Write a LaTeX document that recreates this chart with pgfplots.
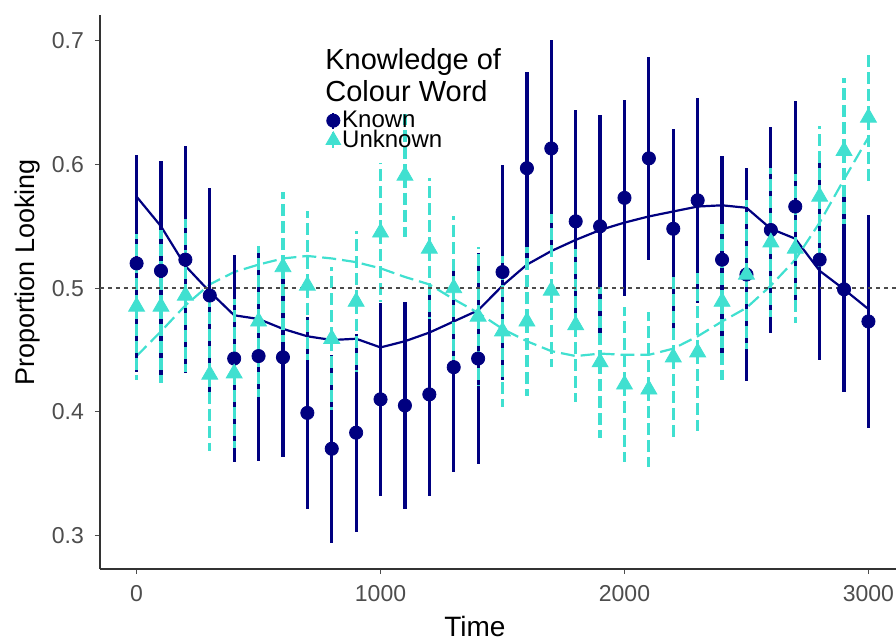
\documentclass[border=0pt]{standalone}
\usepackage{fontspec}
\setmainfont{Liberation Sans}
\usepackage{pgfplots}
\pgfplotsset{compat=1.18}
\usepackage{pgfplotstable}
\definecolor{navyc}{HTML}{000080}
\definecolor{turq}{HTML}{40E0D0}
\definecolor{tickgray}{HTML}{4D4D4D}

% time, mean, half-width of the interval
\pgfplotstableread{
t m e
0 0.520 0.088
100 0.514 0.089
200 0.523 0.092
300 0.494 0.087
400 0.443 0.084
500 0.445 0.085
600 0.444 0.081
700 0.399 0.078
800 0.370 0.076
900 0.383 0.080
1000 0.410 0.078
1100 0.405 0.084
1200 0.414 0.082
1300 0.436 0.085
1400 0.443 0.085
1500 0.513 0.087
1600 0.597 0.078
1700 0.613 0.088
1800 0.554 0.090
1900 0.550 0.090
2000 0.573 0.079
2100 0.605 0.082
2200 0.548 0.081
2300 0.571 0.083
2400 0.523 0.084
2500 0.511 0.086
2600 0.547 0.083
2700 0.566 0.085
2800 0.523 0.081
2900 0.499 0.083
3000 0.473 0.086
}\known

\pgfplotstableread{
t m e
0 0.485 0.059
100 0.485 0.062
200 0.494 0.062
300 0.430 0.062
400 0.431 0.060
500 0.473 0.061
600 0.517 0.061
700 0.502 0.060
800 0.459 0.058
900 0.489 0.057
1000 0.545 0.056
1100 0.591 0.050
1200 0.532 0.057
1300 0.500 0.058
1400 0.477 0.056
1500 0.465 0.061
1600 0.473 0.060
1700 0.498 0.062
1800 0.470 0.062
1900 0.440 0.061
2000 0.422 0.063
2100 0.418 0.063
2200 0.444 0.065
2300 0.448 0.064
2400 0.489 0.063
2500 0.511 0.060
2600 0.537 0.060
2700 0.532 0.060
2800 0.574 0.057
2900 0.611 0.059
3000 0.638 0.055
}\unknown

% fitted curves
\pgfplotstableread{
t k u
0 0.574 0.445
100 0.550 0.465
200 0.518 0.486
300 0.497 0.503
400 0.478 0.513
500 0.475 0.519
600 0.467 0.524
700 0.461 0.526
800 0.458 0.524
900 0.459 0.521
1000 0.452 0.516
1100 0.457 0.509
1200 0.464 0.503
1300 0.473 0.491
1400 0.482 0.480
1500 0.502 0.467
1600 0.519 0.457
1700 0.530 0.449
1800 0.539 0.445
1900 0.547 0.447
2000 0.553 0.446
2100 0.558 0.446
2200 0.562 0.451
2300 0.566 0.461
2400 0.567 0.473
2500 0.565 0.484
2600 0.548 0.502
2700 0.540 0.523
2800 0.514 0.553
2900 0.499 0.588
3000 0.483 0.622
}\fits

\begin{document}
\begin{tikzpicture}
\begin{axis}[
  scale only axis,
  width=398pt, height=277pt,
  xmin=-150, xmax=3113,
  ymin=0.2727, ymax=0.721,
  axis x line*=bottom, axis y line*=left,
  axis line style={black!80, line width=0.6pt},
  xtick={0,1000,2000,3000},
  ytick={0.3,0.4,0.5,0.6,0.7},
  tick align=outside,
  major tick length=2.5pt,
  tick style={tickgray, line width=0.5pt},
  /pgf/number format/assume math mode=true,
  x tick label style={/pgf/number format/1000 sep={}, font=\fontsize{11.5}{13}\selectfont, text=tickgray, yshift=-2pt},
  y tick label style={/pgf/number format/fixed, /pgf/number format/fixed zerofill, /pgf/number format/precision=1, font=\fontsize{11.5}{13}\selectfont, text=tickgray, xshift=-2pt},
  xlabel={Time},
  ylabel={Proportion Looking},
  xlabel style={font=\fontsize{14}{16}\selectfont, at={(axis description cs:0.471,0)}, anchor=center, yshift=-29pt},
  ylabel style={font=\fontsize{13.5}{16}\selectfont, at={(axis description cs:-0.0905,0.535)}, anchor=center, rotate=0},
  clip=false,
  legend style={at={(axis cs:775,0.645)}, anchor=north west, draw=none, fill=none,
    font=\fontsize{12}{12}\selectfont, row sep=-1.8pt, inner sep=0pt,
    nodes={inner sep=0.8pt}},
  legend cell align=left,
  legend image code/.code={%
    \draw[#1, mark=none, line width=1pt] (0.12cm,-0.14cm)--(0.12cm,0.14cm);
    \draw[#1, only marks] plot coordinates {(0.12cm,0cm)};},
]
% fitted lines
\addplot[navyc, line width=1.1pt, forget plot] table[x=t, y=k] {\fits};
\addplot[turq, line width=1.1pt, dash pattern=on 7pt off 3pt, forget plot] table[x=t, y=u] {\fits};
% known
\addplot[navyc, only marks, mark=*, mark size=3.3pt, forget plot,
  error bars/.cd, y dir=both, y explicit, error mark=none,
  error bar style={line width=1.6pt, navyc, solid}]
  table[x=t, y=m, y error=e] {\known};
% unknown
\addplot[turq, only marks, mark=triangle*, mark size=4.6pt, forget plot,
  error bars/.cd, y dir=both, y explicit, error mark=none,
  error bar style={line width=1.6pt, turq, dash pattern=on 6pt off 2.5pt}]
  table[x=t, y=m, y error=e] {\unknown};
% reference line at chance
\addplot[black!70, line width=0.6pt, dash pattern=on 2pt off 2pt, forget plot] coordinates {(-150,0.5) (3113,0.5)};
\addlegendimage{navyc, mark=*, mark size=3.3pt}
\addlegendentry{Known}
\addlegendimage{turq, mark=triangle*, mark size=4.2pt}
\addlegendentry{Unknown}
\node[anchor=north west, inner sep=0pt, align=left, font=\fontsize{14.5}{16}\selectfont] at (axis cs:772,0.694) {Knowledge of\\Colour Word};
\end{axis}
\pgfresetboundingbox
\path (-50pt,-35.5pt) rectangle (398pt,284.5pt);
\end{tikzpicture}
\end{document}
